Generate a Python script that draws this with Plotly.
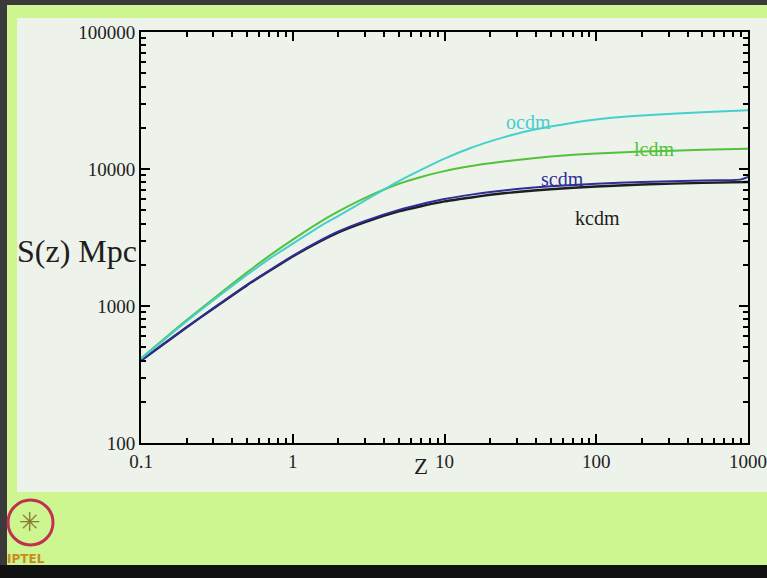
import plotly.graph_objects as go
import math

# ---- data ----
z_vals = [0.1, 0.2, 0.3, 0.5, 0.7, 1, 1.5, 2, 3, 5, 7, 10, 15, 20, 30, 50, 100, 200, 500, 1000]

ocdm = [412, 775, 1100, 1690, 2210, 2850, 3800, 4550, 5900, 8150, 9850, 11900, 14300,
        15900, 18100, 20400, 23000, 24600, 26000, 26800]
lcdm = [415, 790, 1130, 1760, 2320, 3050, 4080, 4900, 6150, 7800, 8750, 9650, 10500,
        11000, 11650, 12350, 13000, 13400, 13800, 14050]
kcdm = [400, 700, 960, 1420, 1800, 2300, 2950, 3450, 4100, 4900, 5350, 5800, 6200,
        6480, 6800, 7120, 7450, 7700, 7920, 8030]
scdm_z = [0.1, 0.2, 0.3, 0.5, 0.7, 1, 1.5, 2, 3, 5, 7, 10, 15, 20, 30, 50, 100, 200, 500,
          800, 900, 1000]
scdm = [400, 700, 965, 1430, 1815, 2320, 2985, 3500, 4180, 5030, 5530, 6030, 6500,
        6800, 7150, 7480, 7820, 8050, 8250, 8320, 8400, 8750]

x_tickvals = [0.1, 1, 10, 100, 1000]
x_ticktext = ["0.1", "1", "10", "100", "1000"]
y_tickvals = [100, 1000, 10000, 100000]
y_ticktext = ["100", "1000", "10000", "100000"]

GREEN_BG = "#cdf590"
WHITE_BG = "#edf2ea"
SERIF = "Liberation Serif, Times New Roman, serif"

fig = go.Figure()
series = [
    ("kcdm", z_vals, kcdm, "#1e1e1e", 2.4),
    ("scdm", scdm_z, scdm, "#2e2e9a", 2),
    ("lcdm", z_vals, lcdm, "#52c23a", 2),
    ("ocdm", z_vals, ocdm, "#45cfcf", 2),
]
for name, xs, ys, col, w in series:
    fig.add_trace(go.Scatter(x=xs, y=ys, mode="lines", name=name,
                             line=dict(color=col, width=w, shape="spline", smoothing=0.5),
                             showlegend=False, hoverinfo="skip"))

minor_x = [k * 10 ** n for n in range(-1, 3) for k in range(2, 10)]
minor_y = [k * 10 ** n for n in range(2, 5) for k in range(2, 10)]

axis_common = dict(type="log", showline=True, linecolor="black", linewidth=2,
                   mirror="ticks", ticks="inside", ticklen=9, tickwidth=1.5,
                   tickcolor="black", showgrid=False, zeroline=False, automargin=False,
                   tickfont=dict(family=SERIF, size=19, color="#222"))

fig.update_xaxes(**axis_common, range=[-1, 3], tickmode="array",
                 tickvals=x_tickvals, ticktext=x_ticktext,
                 minor=dict(ticks="inside", ticklen=5, tickwidth=1.5, tickcolor="black",
                            tickmode="array", tickvals=minor_x, showgrid=False))
fig.update_yaxes(**axis_common, range=[2, 5], tickmode="array",
                 tickvals=y_tickvals, ticktext=y_ticktext,
                 minor=dict(ticks="inside", ticklen=5, tickwidth=1.5, tickcolor="black",
                            tickmode="array", tickvals=minor_y, showgrid=False))

# plot area: x 141..748, y 32..443 in a 767x578 page
L, R, T, B = 141, 748, 32, 443
W, H = 767, 578
def px(xp):
    return (xp - L) / (R - L)
def py(yp):
    return (B - yp) / (B - T)

shapes = [
    dict(type="rect", xref="paper", yref="paper", x0=px(17), x1=px(W + 5),
         y0=py(492), y1=py(18), fillcolor=WHITE_BG, line=dict(width=0), layer="below"),
    dict(type="rect", xref="paper", yref="paper", x0=px(-5), x1=px(W + 5),
         y0=py(5), y1=py(-5), fillcolor="#3a3a3a", line=dict(width=0), layer="below"),
    dict(type="rect", xref="paper", yref="paper", x0=px(-5), x1=px(7),
         y0=py(W), y1=py(-5), fillcolor="#3a3a3a", line=dict(width=0), layer="below"),
    dict(type="rect", xref="paper", yref="paper", x0=px(-5), x1=px(W + 5),
         y0=py(H + 5), y1=py(565), fillcolor="#111111", line=dict(width=0), layer="below"),
    # IPTEL logo approximation
    dict(type="circle", xref="paper", yref="paper", x0=px(8), x1=px(53),
         y0=py(545), y1=py(500), line=dict(color="#c03050", width=3), layer="below"),
]

def note(x, y, text, size, color, family=SERIF, ref="data"):
    d = dict(x=x, y=y, text=text, showarrow=False, xanchor="center", yanchor="middle",
             font=dict(family=family, size=size, color=color))
    if ref == "paper":
        d.update(xref="paper", yref="paper")
    return d

annotations = [
    note(math.log10(36), math.log10(22000), "ocdm", 20, "#45cfcf"),
    note(math.log10(241), math.log10(13900), "lcdm", 20, "#52c23a"),
    note(math.log10(60), math.log10(8500), "scdm", 20, "#2e2e9a"),
    note(math.log10(102), math.log10(4380), "kcdm", 20, "#1e1e1e"),
    note(px(77), py(251), "S(z) Mpc", 32, "#1e1e1e", ref="paper"),
    note(px(421), py(466), "Z", 23, "#1e1e1e", ref="paper"),
    note(px(30), py(522), "✳", 26, "#8a7a30", family="DejaVu Sans", ref="paper"),
    note(px(26), py(559), "<b>IPTEL</b>", 12, "#c88a20", family="DejaVu Sans", ref="paper"),
]

fig.update_layout(width=W, height=H, margin=dict(l=L, r=W - R, t=T, b=H - B, pad=0,
                                                 autoexpand=False),
                  paper_bgcolor=GREEN_BG, plot_bgcolor=WHITE_BG,
                  shapes=shapes, annotations=annotations, showlegend=False)

fig.write_html("out.html", config={"displayModeBar": False},
               post_script="document.body.style.margin='0';document.body.style.overflow='hidden';")
